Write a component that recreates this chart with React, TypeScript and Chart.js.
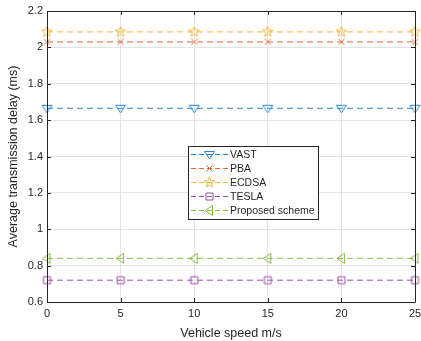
import React, { useEffect, useRef } from "react";
import { Chart, registerables } from "chart.js";
Chart.register(...registerables);

const speeds = [0, 5, 10, 15, 20, 25];
const vastDelay = [1.665, 1.665, 1.665, 1.665, 1.665, 1.665];
const pbaDelay = [2.03, 2.03, 2.03, 2.03, 2.03, 2.03];
const ecdsaDelay = [2.085, 2.085, 2.085, 2.085, 2.085, 2.085];
const teslaDelay = [0.72, 0.72, 0.72, 0.72, 0.72, 0.72];
const proposedDelay = [0.84, 0.84, 0.84, 0.84, 0.84, 0.84];
const seriesNames = ["VAST", "PBA", "ECDSA", "TESLA", "Proposed scheme"];
const xTicks = [0, 5, 10, 15, 20, 25];
const yTicks = [0.6, 0.8, 1, 1.2, 1.4, 1.6, 1.8, 2, 2.2];

const colors = ["#2a86d1", "#e0683a", "#f0b93a", "#9a4fa8", "#86bb45"];
const markers = ["tridown", "x", "star", "square", "trileft"];

function drawMarker(ctx: CanvasRenderingContext2D, kind: string, cx: number, cy: number, color: string) {
  ctx.save();
  ctx.strokeStyle = color;
  ctx.lineWidth = 1;
  ctx.setLineDash([]);
  ctx.beginPath();
  if (kind === "tridown") {
    const r = 5;
    ctx.moveTo(cx - r, cy - r * 0.6);
    ctx.lineTo(cx + r, cy - r * 0.6);
    ctx.lineTo(cx, cy + r * 0.9);
    ctx.closePath();
  } else if (kind === "trileft") {
    const r = 5;
    ctx.moveTo(cx - r * 0.9, cy);
    ctx.lineTo(cx + r * 0.6, cy - r);
    ctx.lineTo(cx + r * 0.6, cy + r);
    ctx.closePath();
  } else if (kind === "x") {
    const r = 3;
    ctx.moveTo(cx - r, cy - r);
    ctx.lineTo(cx + r, cy + r);
    ctx.moveTo(cx - r, cy + r);
    ctx.lineTo(cx + r, cy - r);
  } else if (kind === "square") {
    const r = 3.5;
    ctx.rect(cx - r, cy - r, 2 * r, 2 * r);
  } else if (kind === "star") {
    const R = 5.5, ri = 2.3;
    for (let i = 0; i < 10; i++) {
      const rad = i % 2 === 0 ? R : ri;
      const a = -Math.PI / 2 + (i * Math.PI) / 5;
      const px = cx + rad * Math.cos(a);
      const py = cy + rad * Math.sin(a);
      if (i === 0) ctx.moveTo(px, py);
      else ctx.lineTo(px, py);
    }
    ctx.closePath();
  }
  ctx.stroke();
  ctx.restore();
}

function markerImage(kind: string, color: string) {
  const c = document.createElement("canvas");
  c.width = 15;
  c.height = 15;
  const ctx = c.getContext("2d")!;
  drawMarker(ctx, kind, 7.5, 7.5, color);
  return c;
}

const frameAndLegend = {
  id: "frameAndLegend",
  afterDraw(chart: any) {
    const ctx = chart.ctx as CanvasRenderingContext2D;
    const { left, right, top, bottom } = chart.chartArea;
    const xs = chart.scales.x;
    const ys = chart.scales.y;
    ctx.save();
    ctx.strokeStyle = "#262626";
    ctx.lineWidth = 1;
    ctx.beginPath();
    ctx.rect(Math.round(left) + 0.5, Math.round(top) + 0.5, Math.round(right - left), Math.round(bottom - top));
    ctx.stroke();
    const tl = 4;
    ctx.beginPath();
    for (const v of xTicks) {
      const px = Math.round(xs.getPixelForValue(v)) + 0.5;
      ctx.moveTo(px, bottom);
      ctx.lineTo(px, bottom - tl);
      ctx.moveTo(px, top);
      ctx.lineTo(px, top + tl);
    }
    for (const v of yTicks) {
      const py = Math.round(ys.getPixelForValue(v)) + 0.5;
      ctx.moveTo(left, py);
      ctx.lineTo(left + tl, py);
      ctx.moveTo(right, py);
      ctx.lineTo(right - tl, py);
    }
    ctx.stroke();

    // legend
    const lx = 188.5, ly = 146.5, lw = 130, lh = 73;
    ctx.fillStyle = "#ffffff";
    ctx.fillRect(lx, ly, lw, lh);
    ctx.strokeStyle = "#262626";
    ctx.strokeRect(lx, ly, lw, lh);
    ctx.font = "10.5px 'Liberation Sans', Arial, sans-serif";
    ctx.textBaseline = "middle";
    ctx.textAlign = "left";
    for (let i = 0; i < seriesNames.length; i++) {
      const cy = 154 + i * 14;
      ctx.strokeStyle = colors[i];
      ctx.setLineDash([5, 3]);
      ctx.beginPath();
      ctx.moveTo(191, cy + 0.5);
      ctx.lineTo(228, cy + 0.5);
      ctx.stroke();
      ctx.setLineDash([]);
      drawMarker(ctx, markers[i], 209.5, cy + 0.5, colors[i]);
      ctx.fillStyle = "#262626";
      ctx.fillText(seriesNames[i], 230, cy + 1);
    }
    ctx.restore();
  },
};

export default function App() {
  const ref = useRef<HTMLCanvasElement>(null);
  useEffect(() => {
    document.body.style.margin = "0";
    const values = [vastDelay, pbaDelay, ecdsaDelay, teslaDelay, proposedDelay];
    const chart = new Chart(ref.current!, {
      type: "line",
      data: {
        datasets: seriesNames.map((name, i) => ({
          label: name,
          data: speeds.map((s, j) => ({ x: s, y: values[i][j] })),
          borderColor: colors[i],
          backgroundColor: colors[i],
          borderWidth: 1,
          borderDash: [6, 4],
          pointStyle: markerImage(markers[i], colors[i]) as any,
          pointRadius: 5,
          clip: false as any,
          tension: 0,
        })),
      },
      options: {
        animation: false,
        responsive: false,
        maintainAspectRatio: false,
        layout: { padding: { top: 11, right: 5, left: 0, bottom: 0 } },
        plugins: { legend: { display: false }, tooltip: { enabled: false } },
        scales: {
          x: {
            type: "linear",
            min: 0,
            max: 25,
            afterBuildTicks: (s: any) => { s.ticks = xTicks.map((v) => ({ value: v })); },
            afterFit: (s: any) => { s.height = 39; s.paddingLeft = 0; s.paddingRight = 0; },
            grid: { color: "#e3e3e3", drawTicks: false },
            border: { display: false },
            ticks: { color: "#262626", padding: 5, font: { family: "'Liberation Sans', Arial", size: 11 }, maxRotation: 0 },
            title: { display: true, text: "Vehicle speed m/s", color: "#262626", padding: { top: 2, bottom: 0 }, font: { family: "'Liberation Sans', Arial", size: 12.5 } },
          },
          y: {
            type: "linear",
            min: 0.6,
            max: 2.2,
            afterBuildTicks: (s: any) => { s.ticks = yTicks.map((v) => ({ value: v })); },
            afterFit: (s: any) => { s.width = 47; s.paddingTop = 0; s.paddingBottom = 0; },
            grid: { color: "#e3e3e3", drawTicks: false },
            border: { display: false },
            ticks: {
              color: "#262626",
              padding: 4,
              font: { family: "'Liberation Sans', Arial", size: 11 },
              callback: (v: any) => String(Number(Number(v).toFixed(1))),
            },
            title: { display: true, text: "Average transmission delay (ms)", color: "#262626", padding: { top: 6, bottom: 0 }, font: { family: "'Liberation Sans', Arial", size: 12.5 } },
          },
        },
      },
      plugins: [frameAndLegend],
    });
    return () => chart.destroy();
  }, []);
  return (
    <div style={{ position: "fixed", left: 0, top: 0, width: 421, height: 341, background: "#fff" }}>
      <canvas ref={ref} width={421} height={341} style={{ width: 421, height: 341 }} />
    </div>
  );
}
